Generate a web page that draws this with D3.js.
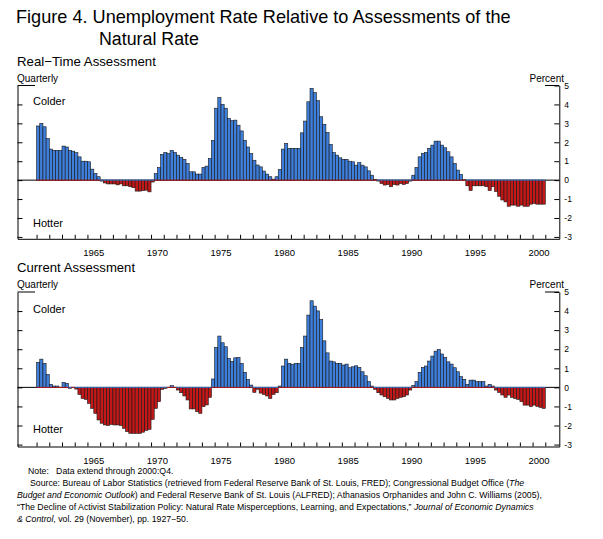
<!DOCTYPE html>
<html><head><meta charset="utf-8">
<script src="https://cdn.jsdelivr.net/npm/d3@7"></script>
<style>
body{margin:0;background:#fff}
svg{display:block}
text{font-family:"Liberation Sans",Arial,Helvetica,sans-serif;fill:#000}
</style>
</head><body>
<svg id="c" width="603" height="539"></svg>
<script>
// ---------- DATA ----------
const startYear = 1961, endYear = 2000;          // quarterly, 1961:Q1 - 2000:Q4
const yearLabels = [1965, 1970, 1975, 1980, 1985, 1990, 1995, 2000];
const yearTicks = d3.range(1961, 2002);
const yTickLabels = [5, 4, 3, 2, 1, 0, -1, -2, -3];
const yInnerTicks = [4, 3, 2, 1, 0, -1, -2, -3];

// Real-time assessment (percentage points), one value per quarter
const realTime = [
  2.86, 3.0, 2.82, 2.2,     1.64, 1.57, 1.57, 1.57,   1.8, 1.75, 1.57, 1.53,   1.45, 1.23, 1.0, 1.0,
  0.97, 0.58, 0.35, 0.18,   -0.05, -0.15, -0.2, -0.2, -0.2, -0.25, -0.2, -0.3, -0.3, -0.35, -0.4, -0.58,
  -0.58, -0.55, -0.53, -0.62, -0.1, 0.35, 0.67, 1.36, 1.46, 1.4, 1.57, 1.46,  1.32, 1.2, 1.1, 0.88,
  0.44, 0.44, 0.32, 0.32,   0.67, 0.74, 1.15, 2.1,    3.8, 4.37, 4.0, 3.8,     3.26, 3.14, 3.17, 2.9,
  2.6, 2.1, 1.75, 1.4,      1.05, 0.8, 0.7, 0.48,     0.32, 0.18, 0.05, 0.18,  0.56, 1.64, 1.94, 1.68,
  1.68, 1.68, 1.68, 2.5,    3.12, 4.14, 4.85, 4.62,   4.2, 3.35, 2.95, 2.52,   1.89, 1.46, 1.32, 1.18,
  1.1, 1.1, 1.0, 0.97,      0.79, 0.93, 0.79, 0.7,    0.49, 0.26, 0.03, -0.05, -0.18, -0.26, -0.23, -0.35,
  -0.23, -0.26, -0.18, -0.23, -0.18, -0.05, 0.26, 0.67, 1.23, 1.41, 1.46, 1.68, 1.85, 2.06, 2.06, 1.85,
  1.71, 1.5, 1.23, 0.88,    0.53, 0.3, 0.02, -0.3,    -0.55, -0.3, -0.3, -0.3, -0.3, -0.35, -0.55, -0.35,
  -0.6, -0.85, -1.05, -1.15, -1.38, -1.32, -1.32, -1.38, -1.32, -1.38, -1.38, -1.27, -1.23, -1.27, -1.27, -1.27
];

// Current assessment (percentage points), one value per quarter
const current = [
  1.31, 1.48, 1.26, 0.68,   0.16, 0.07, 0.07, 0.0,    0.26, 0.21, -0.05, 0.0,  -0.09, -0.37, -0.58, -0.63,
  -0.84, -1.1, -1.36, -1.71, -1.88, -1.97, -2.0, -1.94, -1.97, -1.97, -2.0, -2.15, -2.32, -2.41, -2.41, -2.41,
  -2.41, -2.35, -2.25, -2.2, -1.68, -1.1, -0.75, -0.1, -0.05, 0.0, 0.09, 0.0,   -0.14, -0.28, -0.45, -0.66,
  -1.13, -1.13, -1.27, -1.36, -1.01, -0.92, -0.52, 0.44, 2.09, 2.69, 2.34, 2.13, 1.52, 1.36, 1.55, 1.57,
  1.26, 0.79, 0.42, 0.12,   -0.26, -0.1, -0.3, -0.37, -0.45, -0.58, -0.37, -0.28, 0.07, 1.12, 1.48, 1.26,
  1.2, 1.26, 1.26, 2.09,    2.69, 3.79, 4.54, 4.26,   4.01, 3.56, 2.44, 1.81,  1.38, 1.34, 1.26, 1.26,
  1.17, 1.22, 1.03, 1.08,   1.13, 1.05, 0.82, 0.61,   0.3, 0.07, -0.1, -0.28,  -0.4, -0.49, -0.58, -0.66,
  -0.66, -0.58, -0.52, -0.49, -0.4, -0.14, 0.1, 0.3,  0.79, 1.05, 1.12, 1.38,  1.64, 1.9, 1.99, 1.75,
  1.57, 1.34, 1.22, 1.03,   0.82, 0.56, 0.42, 0.16,   0.38, 0.38, 0.3, 0.3,    0.3, 0.07, 0.16, 0.07,
  -0.14, -0.26, -0.4, -0.52, -0.4, -0.52, -0.58, -0.63, -0.75, -0.93, -0.93, -1.01, -0.93, -1.0, -1.05, -1.1
];

const quarters = d3.range(startYear, endYear + 1).flatMap(yr => [0, 1, 2, 3].map(q => yr + q / 4));

// ---------- DRAW ----------
const svg = d3.select("#c");
const BLUE = "#3f7fdc", RED = "#c41818", EDGE = "#161616";
const x = d3.scaleLinear().domain([1959.5, 2002.1]).range([17.5, 559.3]);
const [X0, X1] = x.range();

function fit(sel, width) {
  const n = sel.node();
  const w = n.getComputedTextLength();
  const fs = parseFloat(sel.attr("font-size"));
  const nf = fs * width / w;
  sel.attr("font-size", nf.toFixed(2));
  return nf;
}

function panel(cfg) {
  const y = d3.scaleLinear().domain([-3.1, 5]).range([cfg.bottom, cfg.top]);
  const g = svg.append("g");
  const data = quarters.map((t, i) => ({ t, v: cfg.values[i] }));

  g.append("line").attr("x1", X0).attr("x2", X1).attr("y1", y(0)).attr("y2", y(0))
    .attr("stroke", "#000").attr("stroke-width", 1);

  g.selectAll("rect.bar").data(data.filter(d => d.v !== 0)).join("rect").attr("class", "bar")
    .attr("x", d => x(d.t)).attr("width", d => x(d.t + 0.25) - x(d.t))
    .attr("y", d => y(Math.max(0, d.v))).attr("height", d => Math.abs(y(d.v) - y(0)))
    .attr("fill", d => d.v > 0 ? BLUE : RED)
    .attr("stroke", EDGE).attr("stroke-width", 0.6);

  g.selectAll("line.z").data(data).join("line").attr("class", "z")
    .attr("x1", d => x(d.t)).attr("x2", d => x(d.t + 0.25))
    .attr("y1", y(0)).attr("y2", y(0))
    .attr("stroke", d => d.v >= 0 ? RED : BLUE).attr("stroke-width", 0.9);

  // left axis
  g.append("g").attr("transform", `translate(${X0},0)`)
    .call(d3.axisLeft(y).tickValues(yInnerTicks).tickSizeInner(-5).tickSizeOuter(0).tickFormat(""));
  // right axis
  const ra = g.append("g").attr("transform", `translate(${X1},0)`)
    .call(d3.axisRight(y).tickValues(yTickLabels).tickSizeInner(-5).tickSizeOuter(0).tickPadding(5)
      .tickFormat(d => String(d)));
  ra.selectAll("text").attr("font-size", 8.5).attr("font-family", null);
  // bottom axis
  g.append("g").attr("transform", `translate(0,${cfg.bottom})`)
    .call(d3.axisBottom(x).tickValues(yearTicks).tickSizeInner(-4).tickSizeOuter(0).tickFormat(""));
  g.selectAll(".domain, .tick line").attr("stroke", "#000");

  // top corner segments
  g.append("line").attr("x1", X0).attr("x2", 35).attr("y1", cfg.top).attr("y2", cfg.top).attr("stroke", "#000");
  g.append("line").attr("x1", 545).attr("x2", X1).attr("y1", cfg.top).attr("y2", cfg.top).attr("stroke", "#000");

  // year labels
  g.selectAll("text.yr").data(yearLabels).join("text").attr("class", "yr")
    .attr("x", d => x(d + 0.5)).attr("y", cfg.bottom + 17).attr("text-anchor", "middle")
    .attr("font-size", 9.5).text(d => d);

  // texts
  fit(g.append("text").attr("x", 17).attr("y", cfg.top - 20).attr("font-size", 13).text(cfg.title), cfg.titleW);
  g.append("text").attr("x", 17).attr("y", cfg.top - 4).attr("font-size", 10).text("Quarterly");
  g.append("text").attr("x", 564).attr("y", cfg.top - 4).attr("font-size", 10).attr("text-anchor", "end").text("Percent");
  g.append("text").attr("x", 33).attr("y", cfg.colderY).attr("font-size", 11).text("Colder");
  g.append("text").attr("x", 33).attr("y", cfg.hotterY).attr("font-size", 11).text("Hotter");
}

// Title
fit(svg.append("text").attr("x", 16).attr("y", 23).attr("font-size", 19)
  .text("Figure 4. Unemployment Rate Relative to Assessments of the"), 495);
fit(svg.append("text").attr("x", 99).attr("y", 45).attr("font-size", 19).text("Natural Rate"), 100);

panel({ values: realTime, top: 85.5, bottom: 238.8, title: "Real\u2212Time Assessment", titleW: 139,
  colderY: 104.5, hotterY: 226.5 });
panel({ values: current, top: 292, bottom: 446.5, title: "Current Assessment", titleW: 118,
  colderY: 313, hotterY: 433 });

// Notes
const notes = [
  { x: 28, y: 474, parts: [["Note:   Data extend through 2000:Q4.", false]] },
  { x: 30, y: 486, parts: [["Source: Bureau of Labor Statistics (retrieved from Federal Reserve Bank of St. Louis, FRED); Congressional Budget Office (", false], ["The", true]] },
  { x: 17, y: 498, parts: [["Budget and Economic Outlook", true], [") and Federal Reserve Bank of St. Louis (ALFRED); Athanasios Orphanides and John C. Williams (2005),", false]] },
  { x: 17, y: 510, parts: [["\u201CThe Decline of Activist Stabilization Policy: Natural Rate Misperceptions, Learning, and Expectations,\u201D ", false], ["Journal of Economic Dynamics", true]] },
  { x: 17, y: 522, parts: [["& Control", true], [", vol. 29 (November), pp. 1927\u221250.", false]] }
];
const noteEls = notes.map(n => {
  const t = svg.append("text").attr("x", n.x).attr("y", n.y).attr("font-size", 9.5).attr("xml:space", "preserve");
  n.parts.forEach(([s, it]) => t.append("tspan").attr("font-style", it ? "italic" : "normal").text(s));
  return t;
});
const noteSize = fit(noteEls[1], 494);
noteEls.forEach(t => t.attr("font-size", noteSize.toFixed(2)));
</script>
</body></html>
